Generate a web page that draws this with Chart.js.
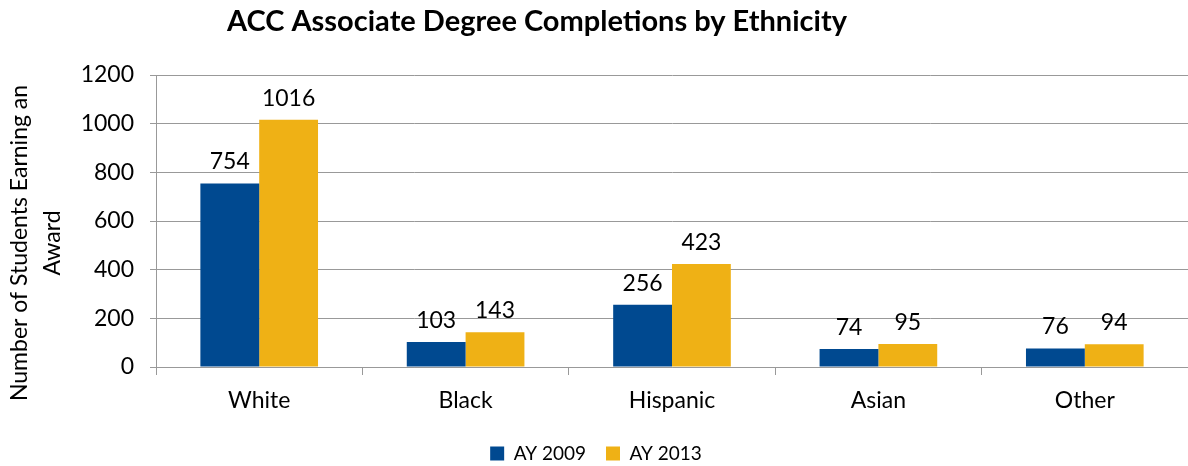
<!DOCTYPE html>
<html>
<head>
<meta charset="utf-8">
<script src="https://cdn.jsdelivr.net/npm/chart.js@4"></script>
<style>
  html, body { margin: 0; padding: 0; background: #fff; }
  #wrap { width: 1188px; height: 466px; position: relative; }
</style>
</head>
<body>
<div id="wrap"><canvas id="chart"></canvas></div>
<script>
const categories = ['White', 'Black', 'Hispanic', 'Asian', 'Other'];
const ay2009 = [754, 103, 256, 74, 76];
const ay2013 = [1016, 143, 423, 95, 94];
const yTicks = [0, 200, 400, 600, 800, 1000, 1200];

const FONT = 'Lato, "Open Sans", sans-serif';
const gridGray = '#999999';

// draws the value above each bar
const barLabels = {
  id: 'barLabels',
  afterDatasetsDraw(chart) {
    const ctx = chart.ctx;
    ctx.save();
    ctx.font = '23px ' + FONT;
    ctx.fillStyle = '#000';
    ctx.textAlign = 'center';
    ctx.textBaseline = 'bottom';
    chart.data.datasets.forEach((ds, i) => {
      chart.getDatasetMeta(i).data.forEach((bar, j) => {
        ctx.fillText(ds.data[j], bar.x, bar.y - 10);
      });
    });
    ctx.restore();
  }
};

// chart title and y axis title are placed by hand, off-centre like the original
const titles = {
  id: 'titles',
  afterDraw(chart) {
    const ctx = chart.ctx;
    ctx.save();
    ctx.fillStyle = '#000';
    ctx.textAlign = 'center';
    ctx.textBaseline = 'middle';
    ctx.font = 'bold 29px ' + FONT;
    ctx.fillText('ACC Associate Degree Completions by Ethnicity', 537, 22);
    ctx.translate(0, 243);
    ctx.rotate(-Math.PI / 2);
    ctx.font = '23px ' + FONT;
    ctx.fillText('Number of Students Earning an', 0, 20);
    ctx.fillText('Award', 0, 53);
    ctx.restore();
  }
};

new Chart(document.getElementById('chart'), {
  type: 'bar',
  data: {
    labels: categories,
    datasets: [
      { label: 'AY 2009', data: ay2009, backgroundColor: '#004990' },
      { label: 'AY 2013', data: ay2013, backgroundColor: '#EFB115' }
    ]
  },
  options: {
    responsive: true,
    maintainAspectRatio: false,
    animation: false,
    layout: { padding: { top: 75, right: 0, left: 4, bottom: -7 } },
    datasets: {
      bar: { categoryPercentage: 0.57, barPercentage: 1.0, borderWidth: 0 }
    },
    scales: {
      x: {
        afterFit(scale) { scale.height = 57; },
        grid: { drawOnChartArea: false, color: gridGray, tickLength: 8, offset: true },
        border: { color: gridGray },
        ticks: { color: '#000', font: { family: FONT, size: 23 }, padding: 12 }
      },
      y: {
        min: 0,
        max: 1200,
        afterBuildTicks(scale) { scale.ticks = yTicks.map(v => ({ value: v })); },
        afterFit(scale) { scale.width = 152; },
        grid: { color: gridGray, tickLength: 6 },
        border: { color: gridGray },
        ticks: {
          color: '#000',
          font: { family: FONT, size: 23 },
          padding: 16,
          callback: v => String(v)
        }
      }
    },
    plugins: {
      legend: {
        position: 'bottom',
        labels: {
          color: '#000',
          font: { family: FONT, size: 19 },
          boxWidth: 14,
          boxHeight: 14,
          padding: 20
        }
      },
      tooltip: { enabled: false }
    }
  },
  plugins: [barLabels, titles]
});
</script>
</body>
</html>
